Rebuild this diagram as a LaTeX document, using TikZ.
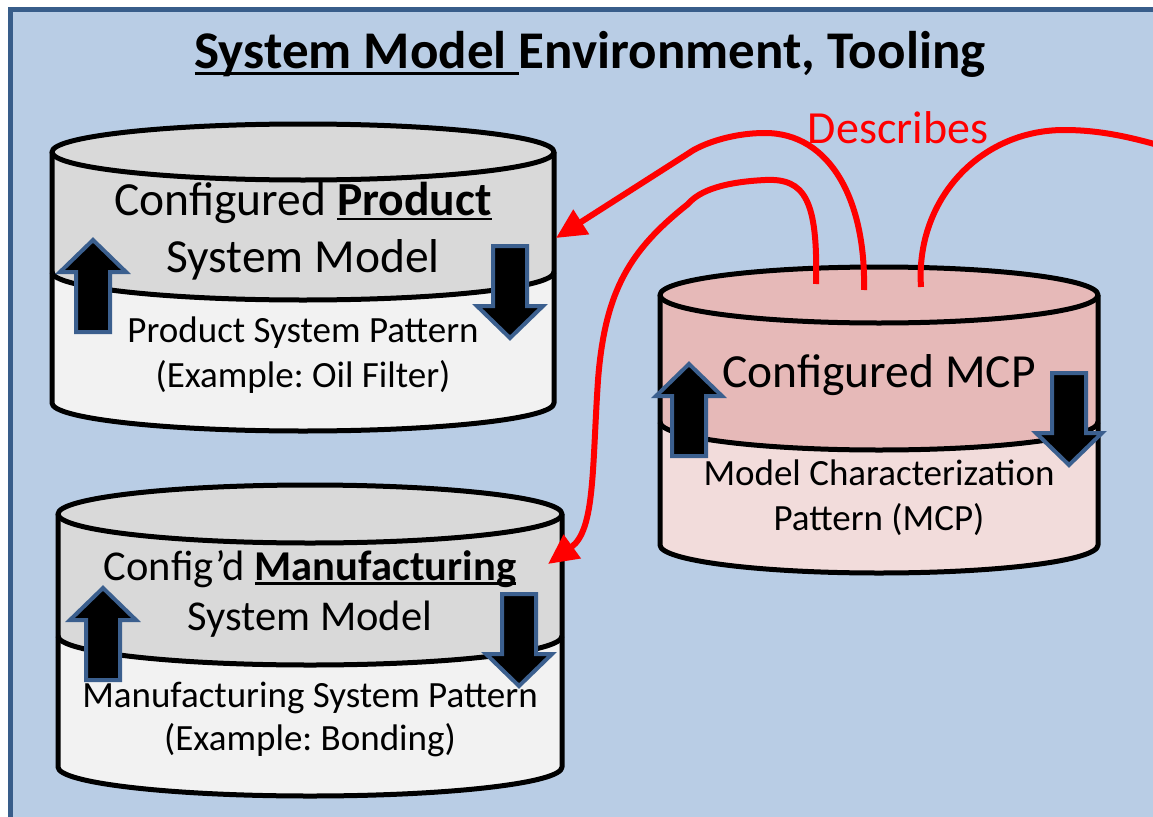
\documentclass[tikz,border=0pt]{standalone}
\usepackage{fontspec}
\setmainfont{Carlito}
\usetikzlibrary{arrows.meta}
\frenchspacing

\definecolor{framebg}{HTML}{B9CDE5}
\definecolor{frameline}{HTML}{385D8A}
\definecolor{greytop}{HTML}{D9D9D9}
\definecolor{greybot}{HTML}{F2F2F2}
\definecolor{pinktop}{HTML}{E6B9B8}
\definecolor{pinkbot}{HTML}{F2DCDB}
\definecolor{arrowrim}{HTML}{3B5F8E}

% underline in the office manner
\newcommand{\ulin}[1]{\setbox0\hbox{#1}\rlap{\rule[-0.11em]{\wd0}{0.055em}}\box0}

% drum: cx, ytop, ymid, ybot, rx, ry, top colour, bottom colour
\newcommand{\drum}[8]{%
  \fill[#8] ({#1-#5},{-#2}) -- ({#1-#5},{-#4}) arc[start angle=180,end angle=360,x radius=#5pt,y radius=#6pt] -- ({#1+#5},{-#2}) -- cycle;
  \fill[#7] ({#1-#5},{-#2}) -- ({#1-#5},{-#3}) arc[start angle=180,end angle=360,x radius=#5pt,y radius=#6pt] -- ({#1+#5},{-#2}) arc[start angle=0,end angle=180,x radius=#5pt,y radius=#6pt] -- cycle;
  \draw[drumline] (#1,{-#2}) ellipse[x radius=#5pt,y radius=#6pt];
  \draw[drumline] ({#1-#5},{-#2}) -- ({#1-#5},{-#4}) arc[start angle=180,end angle=360,x radius=#5pt,y radius=#6pt] -- ({#1+#5},{-#2});
  \draw[drumline] ({#1-#5},{-#3}) arc[start angle=180,end angle=360,x radius=#5pt,y radius=#6pt];
}

\tikzset{
  drumline/.style={line width=5pt, line join=round},
  blockarrow/.style={fill=black, draw=arrowrim, line width=4pt, line join=miter},
  uparr/.pic={\draw[blockarrow] (0,0) -- (33,-32) -- (17,-32) -- (17,-92) -- (-17,-92) -- (-17,-32) -- (-33,-32) -- cycle;},
  downarr/.pic={\draw[blockarrow] (0,0) -- (33,32) -- (17,32) -- (17,92) -- (-17,92) -- (-17,32) -- (-33,32) -- cycle;},
  bigtxt/.style={anchor=base, inner sep=0pt, font=\fontsize{47.5}{56}\selectfont},
  midtxt/.style={anchor=base, inner sep=0pt, font=\fontsize{42.5}{50}\selectfont},
  smalltxt/.style={anchor=base, inner sep=0pt, font=\fontsize{37}{44}\selectfont},
  describes/.style={draw=red, line width=6pt, -{Triangle[length=30pt,width=28pt]}},
}

\begin{document}
\begin{tikzpicture}[x=1pt, y=1pt]
  \useasboundingbox (0,0) rectangle (1153,-816);
  \clip (0,0) rectangle (1153,-816);
  \fill[white] (0,0) rectangle (1153,-816);
  \draw[frameline, fill=framebg, line width=5pt] (10.5,-9.5) rectangle (1175,-840);

  \node[anchor=base, inner sep=0pt, font=\fontsize{53}{60}\selectfont\bfseries] (title) at (590,-69) {\ulin{System Model\ }Environment, Tooling};

  % the three drums
  \drum{303}{152}{272}{403}{251}{28}{greytop}{greybot}
  \drum{310}{514}{636}{767}{252}{29}{greytop}{greybot}
  \drum{879}{295}{422}{545}{219}{28}{pinktop}{pinkbot}

  % product drum
  \node[bigtxt] (prodA) at (303,-215) {Configured \ulin{\textbf{Product}}};
  \node[bigtxt] (prodB) at (303,-272) {System Model};
  \node[smalltxt] (prodC) at (303,-342) {Product System Pattern};
  \node[smalltxt] (prodD) at (303,-387) {(Example: Oil Filter)};
  \pic at (93,-240) {uparr};
  \pic at (510,-338) {downarr};

  % manufacturing drum
  \node[midtxt] (manA) at (310,-580) {Config’d \ulin{\textbf{Manufacturing}}};
  \node[midtxt] (manB) at (310,-630) {System Model};
  \node[smalltxt] (manC) at (310,-707) {Manufacturing System Pattern};
  \node[smalltxt] (manD) at (310,-750) {(Example: Bonding)};
  \pic at (103,-588) {uparr};
  \pic at (519,-686) {downarr};

  % mcp drum
  \node[bigtxt] (mcpA) at (879,-387) {Configured MCP};
  \node[smalltxt] (mcpB) at (879,-485) {Model Characterization};
  \node[smalltxt] (mcpC) at (879,-530) {Pattern (MCP)};
  \pic at (689,-364) {uparr};
  \pic at (1069,-465) {downarr};

  % describes links
  \coordinate (prodin) at (556,-238);
  \coordinate (manin) at (548,-564);
  \coordinate (mcpa) at (816,-284);
  \coordinate (mcpb) at (864,-290);
  \coordinate (mcpc) at (921,-287);
  \coordinate (offpage) at (1165,-147);
  \node[anchor=base, inner sep=0pt, text=red, font=\fontsize{46}{54}\selectfont] (desc) at (898,-143) {Describes};
  \draw[describes] (mcpb) .. controls (866,-200) and (830,-133) .. (765,-133)
    .. controls (730,-133) and (700,-145) .. (689,-153) -- (prodin);
  \draw[describes] (mcpa) .. controls (818,-200) and (805,-178) .. (765,-180)
    .. controls (725,-182) and (700,-190) .. (688,-204)
    .. controls (630,-250) and (605,-290) .. (598,-380)
    .. controls (592,-470) and (595,-530) .. (manin);
  \draw[draw=red, line width=6pt] (mcpc) .. controls (915,-200) and (980,-130) .. (1064,-130)
    .. controls (1100,-130) and (1130,-137) .. (offpage);
\end{tikzpicture}
\end{document}
